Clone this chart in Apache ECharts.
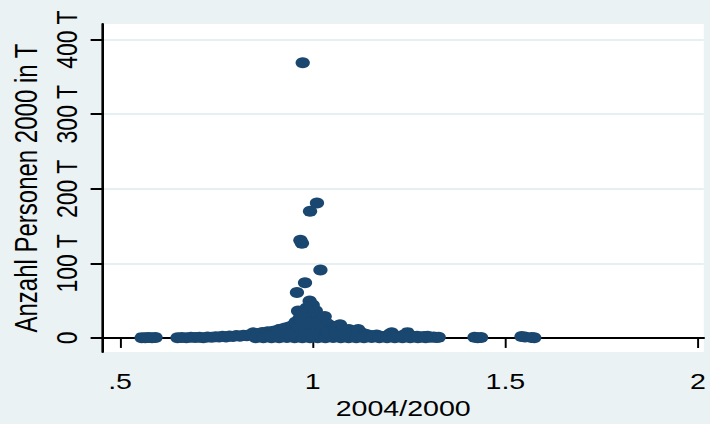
<!DOCTYPE html>
<html>
<head>
<meta charset="utf-8">
<script src="https://cdn.jsdelivr.net/npm/echarts@6/dist/echarts.min.js"></script>
<style>
html, body { margin: 0; padding: 0; background: #eaf2f3; overflow: hidden; }
/* the reference picture is stretched sideways, so the chart is too */
#main { width: 546px; height: 424px; transform: scaleX(1.3); transform-origin: 0 0; }
</style>
</head>
<body>
<div id="main"></div>
<script>
const log = console.log.bind(console)

// tick labels
const xTicks = [0.5, 1, 1.5, 2]
const yTicks = [0, 100, 200, 300, 400]

// 2004/2000 ratio and persons in 2000 (thousands)
const edgeRatios = [0.556, 0.565, 0.574, 0.583, 0.592, 1.420, 1.428, 1.437, 1.542, 1.551, 1.568, 1.575]
const edgePersons = [0.4, 0.2, 0.6, 0.3, 0.5, 0.9, 0.4, 0.7, 2.0, 1.3, 0.6, 0.2]

const bandRatios = [
    0.649, 0.660, 0.672, 0.684, 0.695, 0.706, 0.716, 0.727, 0.738, 0.748,
    0.757, 0.766, 0.775, 0.784, 0.793, 0.802, 0.811, 0.820, 0.829, 0.838,
    0.846, 0.853, 0.861, 0.869, 0.876, 0.883, 0.890, 0.897, 0.904, 0.910,
    0.916, 0.922, 0.928, 0.934, 0.940, 0.946, 0.951, 0.956, 0.962, 0.966,
    0.970, 0.975, 0.979, 0.984, 0.988, 0.992, 0.996, 1.000, 1.004, 1.008,
    1.013, 1.018, 1.024, 1.031, 1.037, 1.044, 1.051, 1.058, 1.065, 1.071,
    1.078, 1.086, 1.094, 1.102, 1.110, 1.118, 1.126, 1.134, 1.142, 1.150,
    1.158, 1.166, 1.175, 1.184, 1.192, 1.200, 1.205, 1.212, 1.220, 1.229,
    1.238, 1.246, 1.253, 1.262, 1.271, 1.280, 1.289, 1.298, 1.306, 1.314,
    1.321, 1.327
]
const bandPersons = [
    0.3, 0.6, 0.2, 0.8, 0.5, 1.0, 0.4, 1.3, 0.9, 1.6,
    1.1, 2.2, 1.4, 2.6, 1.9, 3.1, 2.4, 3.6, 2.8, 4.6,
    6.8, 3.9, 5.5, 7.4, 4.8, 8.2, 6.1, 9.0, 7.2, 10.5,
    11.8, 9.4, 13.2, 10.6, 15.1, 12.7, 17.6, 21.4, 36.0, 26.3,
    23.8, 31.5, 27.2, 40.1, 34.6, 49.5, 38.8, 44.2, 32.7, 36.4,
    27.9, 24.6, 21.8, 28.7, 19.4, 16.9, 15.2, 13.7, 16.1, 17.8,
    11.9, 10.4, 11.2, 9.1, 8.3, 11.4, 6.9, 5.2, 4.1, 3.4,
    2.9, 3.8, 2.3, 1.9, 2.6, 5.1, 7.0, 3.3, 1.8, 2.4,
    4.2, 7.1, 3.0, 1.6, 2.1, 1.2, 1.9, 2.3, 0.9, 1.4,
    0.6, 0.8
]

const floorRatios = [
    0.852, 0.872, 0.893, 0.913, 0.933, 0.953, 0.973, 0.993, 1.013, 1.033,
    1.053, 1.073, 1.093, 1.113, 1.133, 1.153, 1.173, 1.193, 1.213, 1.233,
    1.253, 1.273, 1.293, 0.930, 0.948, 0.958, 0.964, 0.978, 0.983, 0.990,
    0.997, 1.002, 1.006, 1.012, 1.022, 1.040, 1.060, 1.082, 0.940, 1.000
]
const floorPersons = [
    0.3, 0.1, 0.4, 0.2, 0.5, 0.3, 0.2, 0.4, 0.1, 0.3,
    0.5, 0.2, 0.4, 0.3, 0.2, 0.5, 0.1, 0.3, 0.2, 0.4,
    0.3, 0.1, 0.2, 6.2, 7.8, 9.5, 14.3, 16.8, 8.7, 21.3,
    12.6, 19.7, 9.8, 14.9, 11.3, 7.6, 6.4, 5.3, 4.1, 4.5
]

const outlierRatios = [0.974, 1.011, 0.993, 0.968, 0.972, 1.020, 0.980, 0.959]
const outlierPersons = [369, 181, 170, 131, 127, 91, 74, 61]

const toPoints = (xs, ys) => xs.map((x, i) => [x, ys[i]])

const points = [].concat(
    toPoints(edgeRatios, edgePersons),
    toPoints(bandRatios, bandPersons),
    toPoints(floorRatios, floorPersons),
    toPoints(outlierRatios, outlierPersons)
)

const ink = '#000'
const fontFamily = 'Liberation Sans'

const option = {
    backgroundColor: '#eaf2f3',
    animation: false,
    textStyle: {fontFamily: fontFamily},
    grid: {
        left: 76.5,
        right: 0,
        top: 24,
        bottom: 64.5,
        show: true,
        backgroundColor: '#fff',
        borderWidth: 0
    },
    xAxis: {
        type: 'value',
        min: 0.4545,
        max: 2.0151,
        name: '2004/2000',
        nameLocation: 'middle',
        nameGap: 42,
        nameTextStyle: {fontSize: 22, color: ink, fontFamily: fontFamily},
        axisLine: {lineStyle: {color: ink, width: 2}},
        axisTick: {length: 10, lineStyle: {color: ink, width: 1.5}, customValues: xTicks},
        axisLabel: {
            customValues: xTicks,
            fontSize: 22,
            color: ink,
            margin: 18,
            formatter: (v) => v === 0.5 ? '.5' : String(v)
        },
        splitLine: {show: false}
    },
    yAxis: {
        type: 'value',
        min: -19,
        max: 421,
        name: 'Anzahl Personen 2000 in T',
        nameLocation: 'middle',
        nameGap: 41,
        nameTextStyle: {fontSize: 24, color: ink, fontFamily: fontFamily},
        axisLine: {show: true, lineStyle: {color: ink, width: 2}},
        axisTick: {show: true, length: 9.2, lineStyle: {color: ink, width: 2}, customValues: yTicks},
        axisLabel: {
            customValues: yTicks,
            rotate: 90,
            fontSize: 23,
            color: ink,
            margin: 16,
            formatter: (v) => v === 0 ? '0' : v + ' T'
        },
        splitLine: {show: true, lineStyle: {color: '#e6eff1', width: 2}}
    },
    series: [
        {
            type: 'scatter',
            data: points,
            symbol: 'circle',
            symbolSize: 11,
            itemStyle: {color: '#1a476f', opacity: 1}
        }
    ]
}

let element = document.querySelector('#main')
let myChart = echarts.init(element, null, {renderer: 'svg'})
myChart.setOption(option)
log('points', points.length)
</script>
</body>
</html>
